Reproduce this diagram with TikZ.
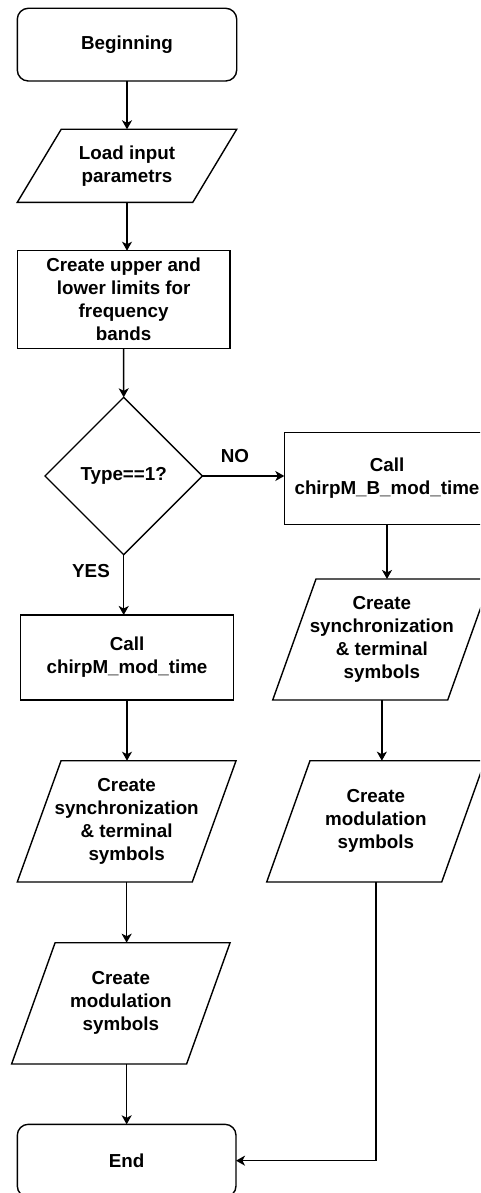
\documentclass[tikz,border=0pt]{standalone}
\usepackage{fontspec}
\setmainfont{Liberation Sans}
\usetikzlibrary{arrows.meta,shapes.geometric}

\tikzset{
  lbl/.style={font=\bfseries\fontsize{18.8}{23}\selectfont, align=center, inner sep=0pt, outer sep=0pt},
  proc/.style={lbl, draw, rectangle, minimum width=#1},
  term/.style={lbl, draw, rectangle, rounded corners=11pt, minimum width=#1},
  iobox/.style={lbl, rectangle, minimum width=175pt},
  decision/.style={lbl, draw, diamond, minimum width=157.4pt, minimum height=157.4pt},
  outline/.style={line width=1.4pt, line join=miter},
  flow/.style={line width=1.4pt, -{Stealth[length=9pt,width=10pt,inset=2.5pt]}},
  every node/.append style={line width=1.4pt}
}

\begin{document}
\begin{tikzpicture}[x=1pt, y=-1pt]
  \useasboundingbox (0,0) rectangle (480,1193);
  \clip (0,0) rectangle (480,1193);

  % left column
  \node[term=219.4pt, minimum height=72.7pt] (begin) at (127,44.65) {Beginning};
  \node[iobox, minimum width=175.5pt, minimum height=73pt] (load) at (127,165.8) {Load input\\parametrs};
  \node[proc=212.7pt, minimum height=97.6pt] (limits) at (123.65,299.5)
       {Create upper and\\lower limits for\\frequency\\bands};
  \node[decision] (type) at (123.7,476) {Type==1?};
  \node[proc=212.6pt, minimum height=85pt] (call) at (127,657.5) {Call\\chirpM\_mod\_time};
  \node[iobox, minimum height=121.3pt] (syncL) at (126.65,821.35)
       {Create\\synchronization\\\& terminal\\symbols};
  \node[iobox, minimum height=121.3pt] (modL) at (120.85,1003.35) {Create\\modulation\\symbols};
  \node[term=218.7pt, minimum height=72.7pt] (end) at (126.65,1160.65) {End};

  % right column
  \node[proc=205.4pt, minimum height=91.6pt] (callB) at (387,478.5) {Call\\chirpM\_B\_mod\_time};
  \node[iobox, minimum height=121pt] (syncR) at (381.85,639.5)
       {Create\\synchronization\\\& terminal\\symbols};
  \node[iobox, minimum height=121.3pt] (modR) at (375.85,821.35) {Create\\modulation\\symbols};

  % slanted input/output outlines around the text boxes
  \foreach \n/\e in {load/21.95, syncL/21.9, modL/21.75, syncR/21.65, modR/21.65}
    \draw[outline] ([xshift=-\e pt]\n.south west) -- ([xshift=-\e pt]\n.south east)
      -- ([xshift=\e pt]\n.north east) -- ([xshift=\e pt]\n.north west) -- cycle;

  % connectors
  \draw[flow] (begin.south) -- (load.north);
  \draw[flow] (load.south) -- (load.south |- limits.north);
  \draw[flow] (limits.south) -- (type.north);
  \draw[flow] (type.east) -- (type.east -| callB.west);
  \draw[flow] (type.south) -- (type.south |- call.north);
  \draw[flow] (call.south) -- (call.south |- syncL.north);
  \draw[flow] (syncL.south) -- (syncL.south |- modL.north);
  \draw[flow] (end.north |- modL.south) -- (end.north);
  \draw[flow] (callB.south) -- (callB.south |- syncR.north);
  \draw[flow] (syncR.south) -- (syncR.south |- modR.north);
  \draw[flow] (modR.south) |- (end.east);

  % branch labels
  \node[lbl] (no) at (235,456) {NO};
  \node[lbl] (yes) at (91,570.7) {YES};
\end{tikzpicture}
\end{document}
